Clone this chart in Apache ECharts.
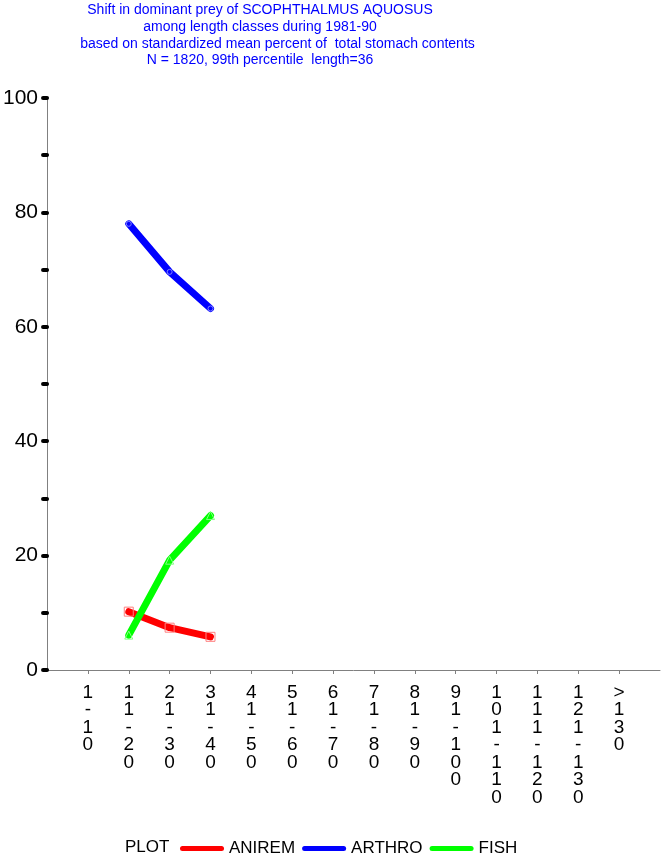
<!DOCTYPE html>
<html>
<head>
<meta charset="utf-8">
<script src="https://cdn.jsdelivr.net/npm/echarts@6/dist/echarts.min.js"></script>
<style>
html,body{margin:0;padding:0;background:#fff;}
#chart{width:663px;height:862px;}
</style>
</head>
<body>
<div id="chart"></div>
<script>
var categories = ['1-10','11-20','21-30','31-40','41-50','51-60','61-70','71-80','81-90','91-100','101-110','111-120','121-130','>130'];
var anirem = [null, 10.2, 7.4, 5.8, null, null, null, null, null, null, null, null, null, null];
var arthro = [null, 78.0, 69.6, 63.2, null, null, null, null, null, null, null, null, null, null];
var fish   = [null, 6.1, 19.2, 27.0, null, null, null, null, null, null, null, null, null, null];
var yTickLabels = [0, 20, 40, 60, 80, 100];
var titleLines = [
  'Shift in dominant prey of SCOPHTHALMUS AQUOSUS',
  'among length classes during 1981-90',
  '         based on standardized mean percent of  total stomach contents',
  'N = 1820, 99th percentile  length=36'
];

var xCats = [''].concat(categories).concat(['']);
function pad(a){ return [null].concat(a).concat([null]); }

var chart = echarts.init(document.getElementById('chart'), null, {renderer:'canvas'});
var capsule = 'path://M2.5,0H41.5A2.5,2.5,0,0,1,41.5,5H2.5A2.5,2.5,0,0,1,2.5,0Z';
chart.setOption({
  animation: false,
  backgroundColor: '#fff',
  title: {
    text: titleLines.join('\n'),
    left: 260,
    top: 2,
    padding: 0,
    textAlign: 'center',
    textStyle: {
      color: '#0000ff',
      fontFamily: '"Liberation Sans", Arial, sans-serif',
      fontSize: 14,
      fontWeight: 'normal',
      lineHeight: 16.7
    }
  },
  graphic: [{
    type: 'text',
    left: 125,
    top: 839,
    style: {
      text: 'PLOT',
      fill: '#000',
      font: '17px "Liberation Sans", Arial, sans-serif'
    }
  }],
  legend: {
    left: 180,
    top: 840,
    padding: 0,
    itemWidth: 44,
    itemHeight: 5,
    itemGap: 7,
    icon: capsule,
    textStyle: { color: '#000', fontSize: 17, fontFamily: '"Liberation Sans", Arial, sans-serif', padding: [0,0,0,0] },
    data: [
      { name: 'ANIREM', itemStyle: { color: '#ff0000', borderWidth: 0 } },
      { name: 'ARTHRO', itemStyle: { color: '#0000ff', borderWidth: 0 } },
      { name: 'FISH', itemStyle: { color: '#00ff00', borderWidth: 0 } }
    ]
  },
  grid: { left: 46, right: 0, top: 98, bottom: 192, containLabel: false },
  xAxis: {
    type: 'category',
    data: xCats,
    boundaryGap: false,
    axisLine: { show: true, lineStyle: { color: '#808080', width: 1 } },
    axisTick: {
      show: true, length: 4,
      interval: function(i){ return i > 0 && i < xCats.length - 1; },
      lineStyle: { color: '#808080', width: 1 }
    },
    axisLabel: {
      interval: 0,
      margin: 14,
      color: '#000',
      fontSize: 19,
      lineHeight: 17.5,
      fontFamily: '"Liberation Sans", Arial, sans-serif',
      verticalAlign: 'top',
      formatter: function(v){ return v.split('').join('\n'); }
    },
    splitLine: { show: false }
  },
  yAxis: {
    type: 'value',
    min: 0, max: 100, interval: 10,
    axisLine: { show: true, lineStyle: { color: '#808080', width: 1 } },
    axisTick: { show: true, length: 4, lineStyle: { color: '#000', width: 4, cap: 'round' } },
    axisLabel: {
      margin: 9,
      color: '#000',
      fontSize: 21,
      fontFamily: '"Liberation Sans", Arial, sans-serif',
      formatter: function(v){ return yTickLabels.indexOf(v) >= 0 ? String(v) : ''; }
    },
    splitLine: { show: false }
  },
  series: [
    {
      name: 'ANIREM', type: 'line', data: pad(anirem), connectNulls: false,
      symbol: 'rect', symbolSize: 9,
      lineStyle: { color: '#ff0000', width: 7, cap: 'round', join: 'round' },
      itemStyle: { color: 'rgba(0,0,0,0)', borderColor: '#ff7f7f', borderWidth: 1 }
    },
    {
      name: 'ARTHRO', type: 'line', data: pad(arthro), connectNulls: false,
      symbol: 'circle', symbolSize: 5,
      lineStyle: { color: '#0000ff', width: 7, cap: 'round', join: 'round' },
      itemStyle: { color: 'rgba(0,0,0,0)', borderColor: '#7f7fff', borderWidth: 1 }
    },
    {
      name: 'FISH', type: 'line', data: pad(fish), connectNulls: false,
      symbol: 'triangle', symbolSize: 8,
      lineStyle: { color: '#00ff00', width: 7, cap: 'round', join: 'round' },
      itemStyle: { color: 'rgba(0,0,0,0)', borderColor: '#7fff7f', borderWidth: 1 }
    }
  ]
});
</script>
</body>
</html>
